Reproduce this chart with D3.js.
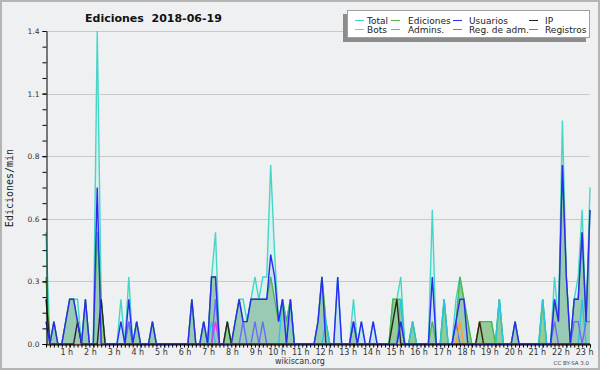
<!DOCTYPE html>
<html>
<head>
<meta charset="utf-8">
<script src="https://cdn.jsdelivr.net/npm/d3@7"></script>
<style>
  body { margin: 0; background: #eff0f2; }
  svg { display: block; font-family: "DejaVu Sans", sans-serif; }
</style>
</head>
<body>
<div id="chart"></div>
<script>
// 10-minute slots, 00:00 .. 23:00 (edits per minute)
const total = [
  0.5, 0, 0.1, 0, 0, 0.1,
  0.2, 0.2, 0.2, 0, 0.2, 0,
  0, 1.4, 0.2, 0, 0, 0,
  0, 0.2, 0, 0.3, 0, 0.1,
  0, 0, 0, 0.1, 0, 0,
  0, 0, 0, 0, 0, 0,
  0, 0.2, 0, 0, 0.1, 0,
  0.3, 0.5, 0, 0, 0.1, 0,
  0.1, 0.2, 0.2, 0.1, 0.2, 0.3,
  0.2, 0.3, 0.3, 0.8, 0.4, 0.1,
  0.2, 0.1, 0.2, 0, 0, 0,
  0, 0, 0, 0.1, 0.3, 0.1,
  0, 0, 0.3, 0, 0, 0,
  0.2, 0, 0.1, 0, 0, 0.1,
  0, 0, 0, 0, 0.2, 0.2,
  0.3, 0, 0, 0.1, 0, 0,
  0, 0, 0.6, 0, 0, 0.2,
  0, 0, 0.2, 0.3, 0.2, 0.1,
  0, 0, 0.1, 0.1, 0.1, 0.1,
  0, 0.2, 0, 0, 0, 0.1,
  0, 0, 0, 0, 0, 0,
  0.2, 0, 0, 0.3, 0.1, 1.0,
  0.3, 0, 0.2, 0.3, 0.6, 0.1,
  0.7
];
const ediciones = [
  0.3, 0, 0.1, 0, 0, 0.1,
  0.2, 0.2, 0.1, 0, 0.2, 0,
  0, 0.5, 0.2, 0, 0, 0,
  0, 0, 0, 0.1, 0, 0.1,
  0, 0, 0, 0.1, 0, 0,
  0, 0, 0, 0, 0, 0,
  0, 0.2, 0, 0, 0.1, 0,
  0.3, 0.3, 0, 0, 0.1, 0,
  0.1, 0.2, 0.1, 0.1, 0.2, 0.2,
  0.2, 0.2, 0.2, 0.3, 0.2, 0.1,
  0.2, 0.1, 0.2, 0, 0, 0,
  0, 0, 0, 0.1, 0.3, 0.1,
  0, 0, 0, 0, 0, 0,
  0.1, 0, 0, 0, 0, 0,
  0, 0, 0, 0, 0.2, 0.2,
  0.2, 0, 0, 0.1, 0, 0,
  0, 0, 0.1, 0, 0, 0.2,
  0, 0, 0.1, 0.3, 0.2, 0.1,
  0, 0, 0.1, 0.1, 0.1, 0.1,
  0, 0.2, 0, 0, 0, 0.1,
  0, 0, 0, 0, 0, 0,
  0.2, 0, 0, 0.2, 0.1, 0.8,
  0.3, 0, 0.2, 0.2, 0.5, 0.1,
  0.6
];
const usuarios = [
  0.1, 0, 0.1, 0, 0, 0.1,
  0.2, 0.2, 0.1, 0, 0.2, 0,
  0, 0.7, 0, 0, 0, 0,
  0, 0.1, 0, 0.2, 0, 0.1,
  0, 0, 0, 0.1, 0, 0,
  0, 0, 0, 0, 0, 0,
  0, 0.2, 0, 0, 0.1, 0,
  0.3, 0.3, 0, 0, 0, 0,
  0.1, 0.2, 0.1, 0.1, 0.2, 0.2,
  0.2, 0.2, 0.2, 0.4, 0.3, 0.1,
  0.2, 0, 0.2, 0, 0, 0,
  0, 0, 0, 0.1, 0.3, 0,
  0, 0, 0.3, 0, 0, 0,
  0.1, 0, 0.1, 0, 0, 0.1,
  0, 0, 0, 0, 0, 0,
  0.1, 0, 0, 0, 0, 0,
  0, 0, 0.3, 0, 0, 0,
  0, 0, 0.1, 0.2, 0.2, 0,
  0, 0, 0, 0, 0, 0,
  0, 0, 0, 0, 0, 0.1,
  0, 0, 0, 0, 0, 0,
  0, 0, 0, 0.2, 0.1, 0.8,
  0.3, 0, 0.2, 0.2, 0.5, 0.1,
  0.6
];
const ip = [
  0.2, 0, 0, 0, 0, 0,
  0, 0, 0.1, 0, 0, 0,
  0, 0, 0.2, 0, 0, 0,
  0, 0, 0, 0, 0, 0,
  0, 0, 0, 0, 0, 0,
  0, 0, 0, 0, 0, 0,
  0, 0, 0, 0, 0, 0,
  0, 0, 0, 0, 0.1, 0,
  0, 0, 0, 0, 0, 0,
  0, 0, 0, 0, 0, 0,
  0, 0, 0, 0, 0, 0,
  0, 0, 0, 0, 0, 0,
  0, 0, 0, 0, 0, 0,
  0, 0, 0, 0, 0, 0,
  0, 0, 0, 0, 0.1, 0.2,
  0, 0, 0, 0, 0, 0,
  0, 0, 0, 0, 0, 0,
  0, 0, 0, 0, 0, 0,
  0, 0, 0.1, 0, 0, 0,
  0, 0, 0, 0, 0, 0,
  0, 0, 0, 0, 0, 0,
  0, 0, 0, 0, 0, 0,
  0, 0, 0, 0, 0, 0,
  0
];
const bots = [
  0, 0, 0, 0, 0, 0,   0, 0, 0, 0, 0, 0,   0, 0, 0, 0, 0, 0,
  0, 0, 0, 0, 0, 0,   0, 0, 0, 0, 0, 0,   0, 0, 0, 0, 0, 0,
  0, 0, 0, 0, 0, 0,   0, 0, 0, 0, 0, 0,   0, 0, 0, 0, 0, 0,
  0, 0, 0, 0, 0, 0,   0, 0, 0, 0, 0, 0,   0, 0, 0, 0, 0, 0,
  0, 0, 0, 0, 0, 0,   0, 0, 0, 0, 0, 0,   0, 0, 0, 0, 0, 0,
  0, 0, 0, 0, 0, 0,   0, 0, 0, 0, 0, 0,   0, 0, 0, 0.1, 0, 0,
  0, 0, 0.1, 0, 0, 0, 0, 0, 0, 0, 0, 0,   0, 0, 0, 0, 0, 0,
  0, 0, 0, 0, 0, 0,   0, 0, 0, 0, 0, 0,
  0
];
const admins = [
  0, 0, 0, 0, 0, 0,   0, 0, 0, 0, 0, 0,   0, 0, 0, 0, 0, 0,
  0, 0, 0, 0, 0, 0,   0, 0, 0, 0, 0, 0,   0, 0, 0, 0, 0, 0,
  0, 0, 0, 0, 0, 0,   0.1, 0, 0, 0, 0, 0, 0, 0, 0, 0, 0, 0,
  0, 0, 0, 0, 0, 0,   0.2, 0, 0.2, 0, 0, 0, 0, 0, 0, 0, 0, 0.1,
  0, 0, 0, 0, 0, 0,   0, 0, 0, 0, 0, 0,   0, 0, 0, 0, 0, 0,
  0.2, 0, 0, 0.1, 0, 0, 0, 0, 0, 0, 0, 0.2, 0, 0, 0, 0, 0, 0,
  0, 0, 0, 0, 0, 0,   0, 0.2, 0, 0, 0, 0, 0, 0, 0, 0, 0, 0,
  0.2, 0, 0, 0, 0, 0, 0, 0, 0, 0, 0.2, 0,
  0
];
const regAdm = [
  0, 0, 0, 0, 0, 0,   0, 0, 0, 0, 0, 0,   0, 0, 0, 0, 0, 0,
  0, 0, 0, 0, 0, 0,   0, 0, 0, 0, 0, 0,   0, 0, 0, 0, 0, 0,
  0, 0, 0, 0, 0, 0,   0, 0.1, 0, 0, 0, 0, 0, 0, 0, 0, 0, 0,
  0, 0, 0, 0, 0, 0,   0, 0, 0, 0, 0, 0,   0, 0, 0, 0, 0, 0,
  0, 0, 0, 0, 0, 0,   0, 0, 0, 0, 0, 0,   0, 0, 0, 0, 0, 0,
  0, 0, 0, 0, 0, 0,   0, 0, 0, 0, 0, 0,   0, 0, 0, 0, 0, 0,
  0, 0, 0, 0, 0, 0,   0, 0, 0, 0, 0, 0,   0, 0, 0, 0, 0, 0,
  0, 0, 0, 0, 0, 0,   0, 0, 0, 0, 0, 0,
  0
];
const registros = [
  0, 0, 0, 0, 0, 0,   0, 0, 0, 0, 0, 0,   0, 0, 0, 0, 0, 0,
  0, 0, 0, 0.1, 0, 0, 0, 0, 0, 0, 0, 0,   0, 0, 0, 0, 0, 0,
  0, 0, 0, 0, 0, 0,   0, 0.2, 0, 0, 0, 0, 0, 0, 0.1, 0, 0, 0.1,
  0, 0.1, 0, 0, 0, 0, 0, 0, 0, 0, 0, 0,   0, 0, 0, 0, 0, 0,
  0, 0, 0, 0, 0, 0,   0.1, 0, 0, 0, 0, 0, 0, 0, 0, 0, 0, 0,
  0.1, 0, 0, 0, 0, 0, 0, 0, 0, 0, 0, 0,   0, 0, 0.1, 0, 0, 0,
  0, 0, 0, 0, 0, 0,   0, 0, 0, 0, 0, 0,   0, 0, 0, 0, 0, 0,
  0, 0, 0, 0.1, 0, 0, 0, 0, 0.1, 0.1, 0, 0.1,
  0.1
];

const yTicks = [0, 0.28, 0.56, 0.84, 1.12, 1.4];
const hourLabels = ["1 h", "2 h", "3 h", "4 h", "5 h", "6 h", "7 h", "8 h", "9 h", "10 h", "11 h", "12 h",
  "13 h", "14 h", "15 h", "16 h", "17 h", "18 h", "19 h", "20 h", "21 h", "22 h", "23 h"];
const legendNames = ["Total", "Ediciones", "Usuarios", "IP", "Bots", "Admins.", "Reg. de adm.", "Registros"];

const W = 600, H = 370;
const colors = {
  "Total": "#46d6c6", "Ediciones": "#4cb84c", "Usuarios": "#2a2af0", "IP": "#262626",
  "Bots": "#ffa028", "Admins.": "#2cc4e4", "Reg. de adm.": "#e040ec", "Registros": "#6a6aff"
};
const seriesData = {
  "Total": total, "Ediciones": ediciones, "Usuarios": usuarios, "IP": ip,
  "Bots": bots, "Admins.": admins, "Reg. de adm.": regAdm, "Registros": registros
};

const svg = d3.select("#chart").append("svg")
  .attr("width", W).attr("height", H);

svg.append("rect")
  .attr("x", 1).attr("y", 1).attr("width", W - 2).attr("height", H - 2)
  .attr("fill", "#eff0f2").attr("stroke", "#b4b4b4").attr("stroke-width", 2);

const x = d3.scaleLinear().domain([0, total.length - 1]).range([46, 590]);
const y = d3.scaleLinear().domain([0, 1.4]).range([344, 31]);

// grid
svg.append("g").selectAll("line")
  .data(yTicks.slice(1))
  .join("line")
    .attr("x1", 47).attr("x2", 590)
    .attr("y1", d => Math.round(y(d)) + 0.5).attr("y2", d => Math.round(y(d)) + 0.5)
    .attr("stroke", "#cacaca");

// areas
const area = d3.area().x((d, i) => x(i)).y0(y(0)).y1(d => y(d));
svg.append("path").datum(total).attr("d", area).attr("fill", "#d6f2ee").attr("opacity", 0.9);
svg.append("path").datum(ediciones).attr("d", area).attr("fill", "#8cc68c").attr("opacity", 0.9);
svg.append("path").datum(usuarios).attr("d", area).attr("fill", "#a8c8ee").attr("opacity", 0.35);

// lines
const line = d3.line().x((d, i) => x(i)).y(d => y(d));
["Total", "Ediciones", "Admins.", "Registros", "Reg. de adm.", "Bots", "IP", "Usuarios"].forEach(name => {
  svg.append("path").datum(seriesData[name])
    .attr("d", line)
    .attr("fill", "none")
    .attr("stroke", colors[name])
    .attr("stroke-width", 1.4)
    .attr("stroke-linejoin", "miter");
});

// y axis
const yMinor = svg.append("g").attr("transform", "translate(46.5,0)")
  .call(d3.axisLeft(y).tickValues(d3.range(0, 21).map(k => k * 0.07)).tickSize(4).tickSizeOuter(0).tickFormat(""));
yMinor.select(".domain").remove();
const yAxis = svg.append("g").attr("transform", "translate(46.5,0)")
  .call(d3.axisLeft(y).tickValues(yTicks).tickFormat(d3.format(".1f")).tickSize(4).tickSizeOuter(0).tickPadding(3));
yAxis.selectAll("text").attr("font-size", 7.5).attr("font-family", "DejaVu Sans").attr("fill", "#333");

// x axis
const xMinor = svg.append("g").attr("transform", "translate(0,344.5)")
  .call(d3.axisBottom(x).tickValues(d3.range(0, total.length)).tickSize(3).tickSizeOuter(0).tickFormat(""));
const xAxis = svg.append("g").attr("transform", "translate(0,344.5)")
  .call(d3.axisBottom(x).tickValues(d3.range(6, total.length, 6)).tickSize(3).tickSizeOuter(0)
    .tickPadding(2).tickFormat((d, i) => hourLabels[i]));
xAxis.select(".domain").remove();
xAxis.selectAll("text").attr("font-size", 8).attr("font-family", "DejaVu Sans").attr("fill", "#333")
  .attr("text-anchor", "end").attr("dx", 3);

// titles
svg.append("text").attr("x", 85).attr("y", 21.5)
  .attr("font-size", 11).attr("font-weight", "bold").attr("fill", "#111")
  .style("white-space", "pre").text("Ediciones  2018-06-19");

svg.append("text").attr("transform", "translate(13,188) rotate(-90)")
  .attr("text-anchor", "middle").attr("font-family", "DejaVu Sans Mono").attr("font-size", 10)
  .attr("fill", "#222").text("Ediciones/min");

svg.append("text").attr("x", 300).attr("y", 363.5).attr("text-anchor", "middle")
  .attr("font-size", 8).attr("fill", "#333").text("wikiscan.org");
svg.append("text").attr("x", 589).attr("y", 365).attr("text-anchor", "end")
  .attr("font-size", 5.5).attr("fill", "#444").text("CC BY-SA 3.0");

// legend
const lg = svg.append("g");
lg.append("rect").attr("x", 343).attr("y", 14).attr("width", 243).attr("height", 28).attr("fill", "#8c8c8c");
lg.append("rect").attr("x", 347.5).attr("y", 10.5).attr("width", 242).attr("height", 27)
  .attr("fill", "#fff").attr("stroke", "#a0a0a0");
const colLine = [355, 391, 453, 529];
const colText = [367, 408, 469, 545];
legendNames.forEach((name, k) => {
  const c = k % 4, r = Math.floor(k / 4);
  const ly = 20 + r * 9;
  lg.append("line").attr("x1", colLine[c]).attr("x2", colLine[c] + 9)
    .attr("y1", ly + 0.5).attr("y2", ly + 0.5).attr("stroke", colors[name]).attr("stroke-width", 1);
  lg.append("text").attr("x", colText[c]).attr("y", ly + 3.5)
    .attr("font-size", 9).attr("fill", "#222").text(name);
});
</script>
</body>
</html>
